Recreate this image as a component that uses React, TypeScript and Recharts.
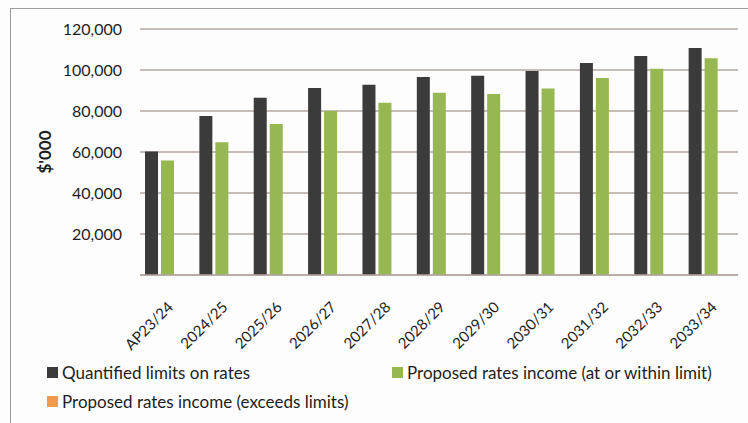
import { BarChart, Bar, XAxis, YAxis, CartesianGrid } from "recharts";

const years = [
  "AP23/24",
  "2024/25",
  "2025/26",
  "2026/27",
  "2027/28",
  "2028/29",
  "2029/30",
  "2030/31",
  "2031/32",
  "2032/33",
  "2033/34",
];
const limits = [60300, 77600, 86500, 91200, 92800, 96600, 97200, 99500, 103400, 106800, 110700];
const withinLimit = [55800, 64700, 73700, 80000, 84000, 88900, 88300, 91000, 96100, 100600, 105700];
const exceedsLimit = [0, 0, 0, 0, 0, 0, 0, 0, 0, 0, 0];
const yTicks = [20000, 40000, 60000, 80000, 100000, 120000];

const series = [
  { key: "limits", name: "Quantified limits on rates", color: "#3b3b3b" },
  { key: "within", name: "Proposed rates income (at or within limit)", color: "#97b752" },
  { key: "exceeds", name: "Proposed rates income (exceeds limits)", color: "#ef9a4c" },
];

const data = years.map((year, i) => ({
  year,
  limits: limits[i],
  within: withinLimit[i],
  exceeds: exceedsLimit[i],
}));

const FONT = "Lato, 'Noto Sans', sans-serif";
const GRID = "#b3a7a2";
const TEXT = "#1e1e1e";

function YearTick(props: any) {
  const { x, y, payload } = props;
  const ax = x + 7;
  const ay = y + 31;
  return (
    <text
      x={ax}
      y={ay}
      textAnchor="end"
      transform={`rotate(-45 ${ax} ${ay})`}
      fontSize={15}
      fontFamily={FONT}
      fill={TEXT}
    >
      {payload.value}
    </text>
  );
}

function LegendItem({ color, label, left, top }: { color: string; label: string; left: number; top: number }) {
  return (
    <div
      style={{
        position: "absolute",
        left,
        top,
        display: "flex",
        alignItems: "center",
        fontFamily: FONT,
        fontSize: 17,
        color: TEXT,
        whiteSpace: "nowrap",
      }}
    >
      <span style={{ width: 11, height: 11, background: color, marginRight: 4, display: "inline-block" }} />
      {label}
    </div>
  );
}

export default function App() {
  return (
    <div
      style={{
        position: "absolute",
        left: 0,
        top: 0,
        width: 748,
        height: 423,
        background: "#fdfdfd",
        overflow: "hidden",
      }}
    >
      <div
        style={{
          position: "absolute",
          left: 10,
          top: 8,
          width: 740,
          height: 420,
          borderLeft: "1px solid #9c9c9c",
          borderTop: "1px solid #9c9c9c",
        }}
      />
      <div style={{ position: "absolute", left: 0, top: 0 }}>
        <BarChart
          width={748}
          height={423}
          data={data}
          margin={{ top: 29, right: 10, left: 10, bottom: 78 }}
          barSize={13}
          barGap={3}
        >
          <CartesianGrid vertical={false} stroke={GRID} strokeWidth={1.5} />
          <XAxis
            dataKey="year"
            height={70}
            interval={0}
            tickSize={0}
            tickLine={false}
            axisLine={{ stroke: GRID, strokeWidth: 1.5 }}
            tick={<YearTick />}
          />
          <YAxis
            width={130}
            domain={[0, 120000]}
            ticks={yTicks}
            tickSize={0}
            tickMargin={18}
            tickLine={false}
            axisLine={false}
            tickFormatter={(v: number) => v.toLocaleString("en-US")}
            tick={{ fontSize: 16, fontFamily: FONT, fill: TEXT }}
            label={{
              value: "$'000",
              angle: -90,
              position: "insideLeft",
              offset: 35,
              style: { fontSize: 17, fontWeight: 700, fontFamily: FONT, fill: TEXT, textAnchor: "middle" },
            }}
          />
          {series.map((s) => (
            <Bar key={s.key} dataKey={s.key} name={s.name} fill={s.color} isAnimationActive={false} />
          ))}
        </BarChart>
      </div>
      <LegendItem color={series[0].color} label={series[0].name} left={47} top={362} />
      <LegendItem color={series[1].color} label={series[1].name} left={392} top={362} />
      <LegendItem color={series[2].color} label={series[2].name} left={47} top={391} />
    </div>
  );
}
